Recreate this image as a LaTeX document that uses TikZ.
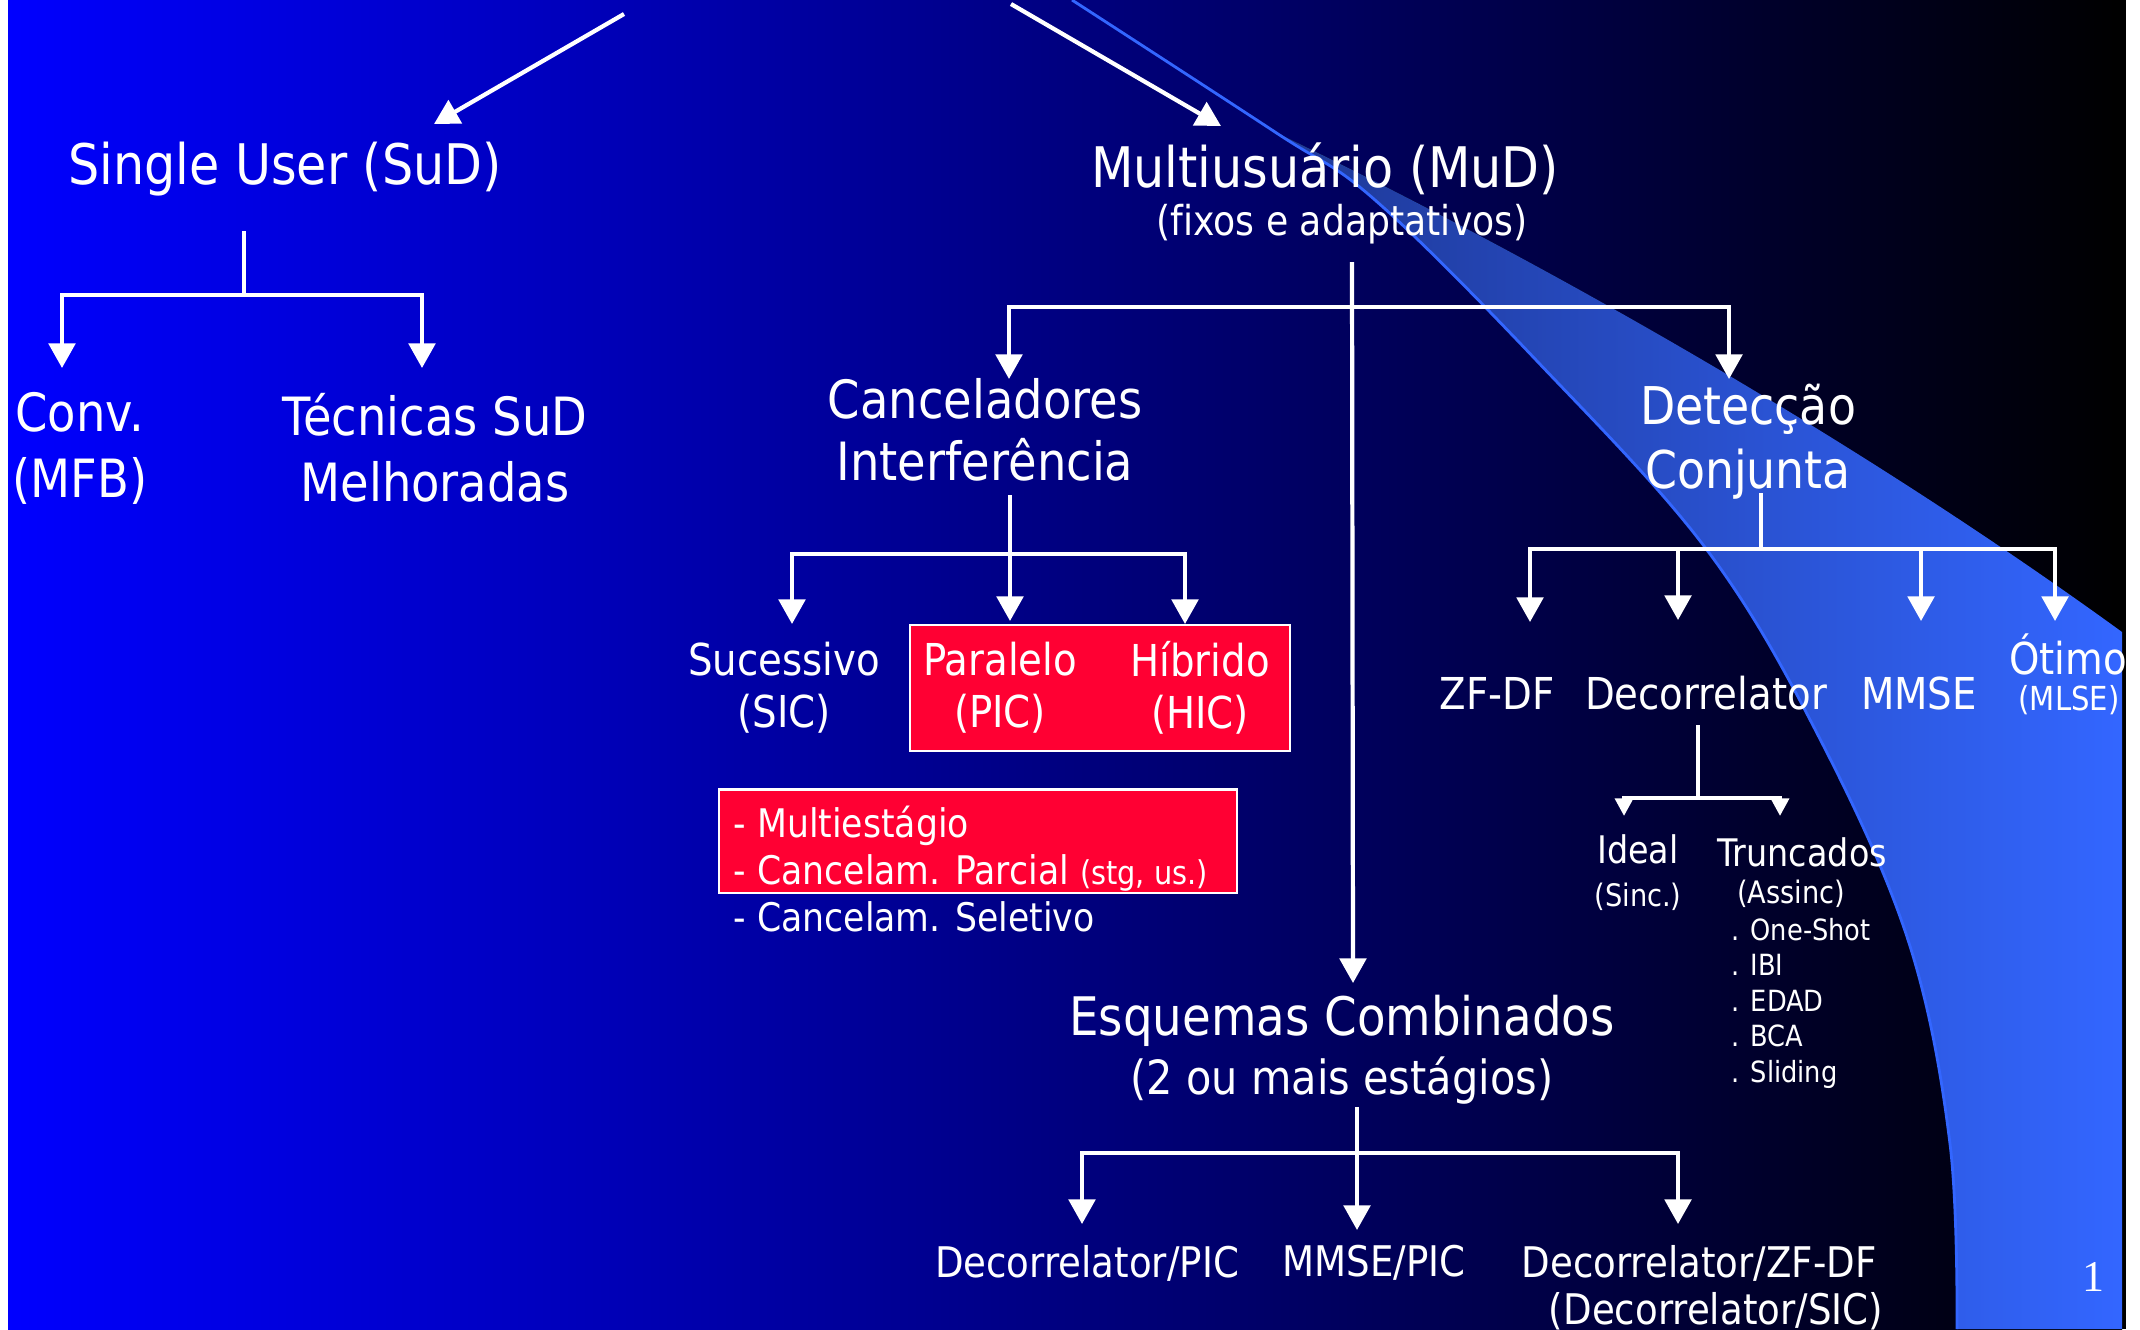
\documentclass[tikz,border=0pt]{standalone}
\usepackage{fontspec}
\setmainfont{DejaVu Sans}[FakeStretch=0.88, Ligatures=NoCommon]
\newfontfamily\pagefont{Liberation Serif}
\usetikzlibrary{arrows.meta}

\definecolor{slideblue}{RGB}{0,0,255}
\definecolor{slidemid}{RGB}{0,0,160}
\definecolor{swooshdark}{RGB}{30,56,150}
\definecolor{swooshlight}{RGB}{51,102,255}
\definecolor{boxred}{RGB}{255,0,51}

\newcommand{\fsz}[2]{\fontsize{#1}{#2}\selectfont}

\tikzset{
    tree/.style={white, line width=1.2pt},
    arr/.style={tree, -{Triangle[length=7pt, width=7.5pt]}},
    arrsmall/.style={tree, -{Triangle[length=5pt, width=5pt]}},
    lbl/.style={text=white, inner sep=0pt, align=center},
    big/.style={lbl, font=\fsz{15.9}{18}},
    mid/.style={lbl, font=\fsz{12.5}{14.8}},
    bottom/.style={lbl, font=\fsz{12}{14}},
    redbox/.style={draw=white, line width=0.6pt, fill=boxred, inner sep=0pt},
}

\begin{document}
\begin{tikzpicture}[x=0.01cm, y=-0.01cm]
    % Slide background
    \useasboundingbox (0,0) rectangle (2140,1329);
    \fill[white] (0,0) rectangle (2140,1329);
    \shade[left color=slideblue, middle color=slidemid, right color=black] (8,0) rectangle (2122,1329);
    \fill[black] (2112,0) rectangle (2126,1329);

    % Blue swoosh on the right
    \fill[left color=swooshdark, right color=swooshlight]
        plot[smooth, tension=0.6] coordinates {(1275,132) (1375,200) (1536,360) (1707,550) (1821,741) (1909,943) (1950,1144) (1957,1329)}
        -- (2122,1329) -- (2122,632) .. controls (1830,420) and (1500,240) .. (1275,132) -- cycle;
    \draw[swooshlight, line width=0.8pt]
        plot[smooth, tension=0.6] coordinates {(1072,0) (1275,132) (1375,200) (1536,360) (1707,550) (1821,741) (1909,943) (1950,1144) (1957,1329)};

    % Red boxes
    \node[redbox, minimum width=3.8cm, minimum height=1.26cm] (picbox) at (1100,688) {};
    \node[redbox, minimum width=5.18cm, minimum height=1.03cm] (listbox) at (978,841) {};

    % Labels
    \node[big] (sud) at (285,169) {Single User (SuD)};
    \node[big] (mud) at (1325,169) {Multiusuário (MuD)};
    \node[lbl, font=\fsz{11.7}{14}] (mudsub) at (1342,224) {(fixos e adaptativos)};
    \node[lbl, font=\fsz{15}{18.8}] (conv) at (80,448) {Conv.\\(MFB)};
    \node[lbl, font=\fsz{15}{18.8}] (tec) at (435,448) {Técnicas SuD\\Melhoradas};
    \node[lbl, font=\fsz{15}{17.6}] (canc) at (985,430) {Canceladores\\Interferência};
    \node[lbl, font=\fsz{14.8}{18.2}] (det) at (1748,442) {Detecção\\Conjunta};

    \node[mid] (suc) at (784,688) {Sucessivo\\(SIC)};
    \node[mid] (par) at (1000,688) {Paralelo\\(PIC)};
    \node[mid] (hib) at (1200,688) {Híbrido\\(HIC)};
    \node[lbl, font=\fsz{11.2}{13.4}, align=left, anchor=west] (list) at (733,869)
        {- Multiestágio\\- Cancelam. Parcial {\fsz{9.3}{10}(stg, us.)}\\- Cancelam. Seletivo};

    \node[mid] (zf) at (1497,693) {ZF-DF};
    \node[mid] (decor) at (1706,693) {Decorrelator};
    \node[mid] (mmse) at (1919,693) {MMSE};
    \node[mid] (oti) at (2068,654) {Ótimo};
    \node[lbl, font=\fsz{9.4}{11}] (mlse) at (2069,700) {(MLSE)};

    \node[lbl, font=\fsz{10.8}{12.2}] (ideal) at (1638,873) {Ideal\\{\fsz{8.8}{10}(Sinc.)}};
    \node[lbl, font=\fsz{10.8}{12}] (trunc) at (1802,852) {Truncados};
    \node[lbl, font=\fsz{8.8}{10}] (assinc) at (1791,894) {(Assinc)};
    \node[lbl, font=\fsz{8.3}{10.1}, align=left, anchor=west] (items) at (1731,1003)
        {. One-Shot\\. IBI\\. EDAD\\. BCA\\. Sliding};

    \node[lbl, font=\fsz{15.1}{17}] (esq) at (1342,1021) {Esquemas Combinados};
    \node[lbl, font=\fsz{13.4}{16}] (esqsub) at (1342,1081) {(2 ou mais estágios)};
    \node[bottom] (dpic) at (1087,1263) {Decorrelator/PIC};
    \node[bottom] (mpic) at (1374,1263) {MMSE/PIC};
    \node[bottom] (dzf) at (1699,1263) {Decorrelator/ZF-DF};
    \node[bottom] (dsic) at (1716,1311) {(Decorrelator/SIC)};

    \node[text=white, inner sep=0pt, font=\pagefont\fsz{12.5}{14}] (pg) at (2093,1277) {1};

    % Tree coordinates
    \coordinate (top-l) at (624,14);
    \coordinate (top-r) at (1011,4);
    \coordinate (sud-in) at (434,124);
    \coordinate (mud-in) at (1221,126);

    \coordinate (sud-stem) at (244,231);
    \coordinate (sud-bar) at (244,295);
    \coordinate (conv-in) at (62,368);
    \coordinate (tec-in) at (422,368);

    \coordinate (mud-stem) at (1352,262);
    \coordinate (mud-bar) at (1352,307);
    \coordinate (canc-in) at (1009,379);
    \coordinate (det-in) at (1729,379);
    \coordinate (esq-in) at (1353,983);

    \coordinate (canc-stem) at (1010,495);
    \coordinate (canc-bar) at (1010,554);
    \coordinate (suc-in) at (792,624);
    \coordinate (par-in) at (1010,621);
    \coordinate (hib-in) at (1185,624);

    \coordinate (det-stem) at (1761,493);
    \coordinate (det-bar) at (1761,549);
    \coordinate (zf-in) at (1530,622);
    \coordinate (decor-in) at (1678,620);
    \coordinate (mmse-in) at (1921,621);
    \coordinate (oti-in) at (2055,621);

    \coordinate (decor-stem) at (1698,725);
    \coordinate (decor-bar) at (1698,798);
    \coordinate (ideal-in) at (1624,816);
    \coordinate (trunc-in) at (1780,816);

    \coordinate (esq-stem) at (1357,1107);
    \coordinate (esq-bar) at (1357,1153);
    \coordinate (dpic-in) at (1082,1224);
    \coordinate (mpic-in) at (1357,1230);
    \coordinate (dzf-in) at (1678,1224);

    % Connectors
    \draw[arr] (top-l) -- (sud-in);
    \draw[arr] (top-r) -- (mud-in);

    \draw[tree] (sud-stem) -- (sud-bar);
    \draw[arr] (sud-bar) -| (conv-in);
    \draw[arr] (sud-bar) -| (tec-in);

    \draw[arr] (mud-stem) -- (esq-in);
    \draw[arr] (mud-bar) -| (canc-in);
    \draw[arr] (mud-bar) -| (det-in);

    \draw[arr] (canc-stem) -- (par-in);
    \draw[arr] (canc-bar) -| (suc-in);
    \draw[arr] (canc-bar) -| (hib-in);

    \draw[tree] (det-stem) -- (det-bar);
    \foreach \t in {zf-in, decor-in, mmse-in, oti-in} {
        \draw[arr] (det-bar) -| (\t);
    }

    \draw[tree] (decor-stem) -- (decor-bar);
    \draw[arrsmall] (decor-bar) -| (ideal-in);
    \draw[arrsmall] (decor-bar) -| (trunc-in);

    \draw[arr] (esq-stem) -- (mpic-in);
    \draw[arr] (esq-bar) -| (dpic-in);
    \draw[arr] (esq-bar) -| (dzf-in);
\end{tikzpicture}
\end{document}
